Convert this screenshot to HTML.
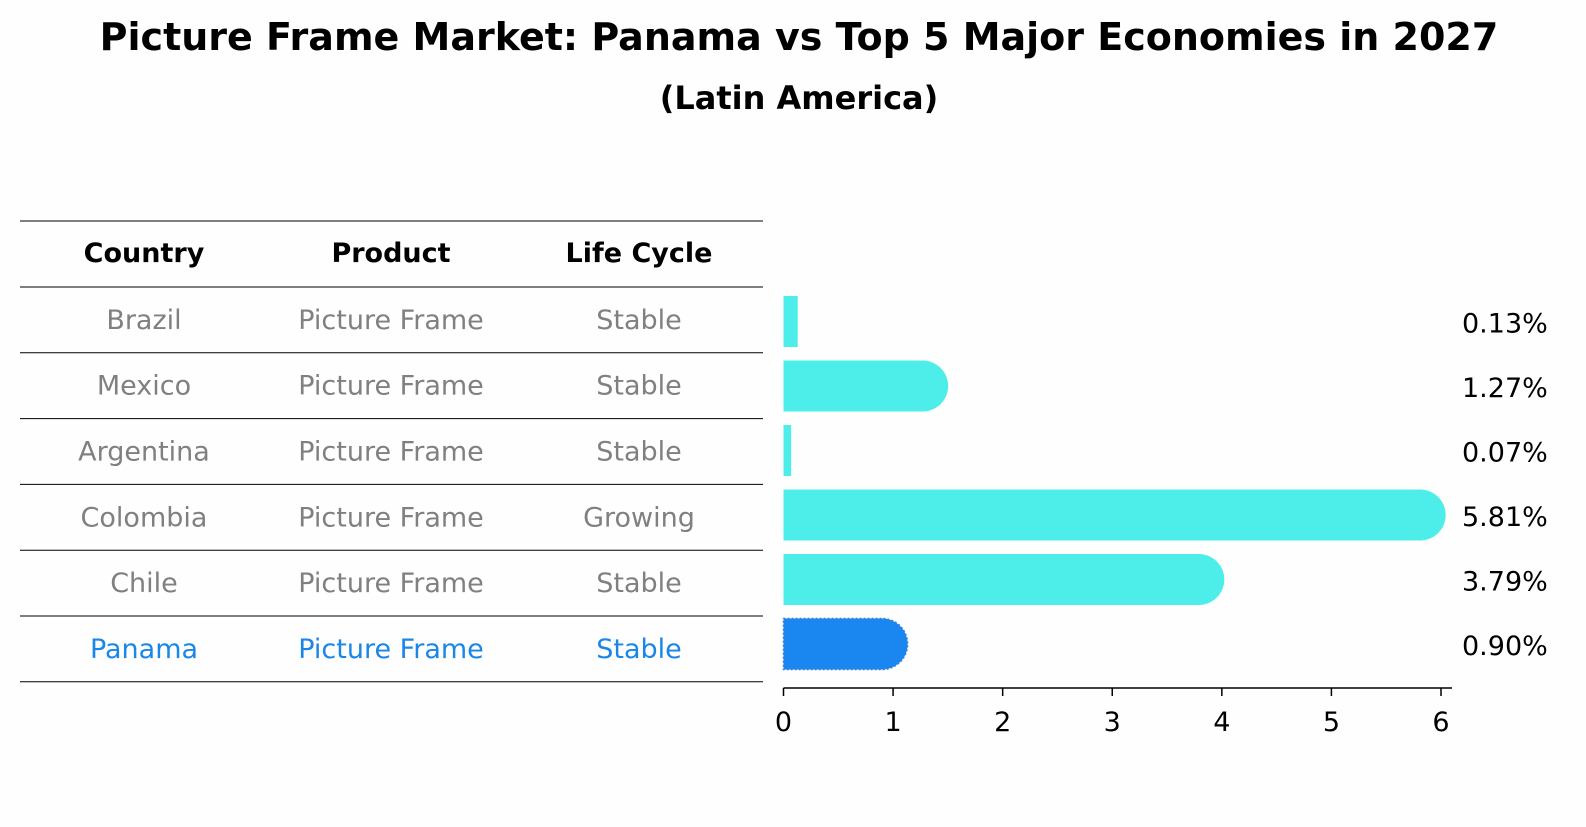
<!DOCTYPE html>
<html><head><meta charset="utf-8"><style>
body{margin:0;background:#fefefe;font-family:"DejaVu Sans","Liberation Sans",sans-serif;}
svg text{font-family:"DejaVu Sans","Liberation Sans",sans-serif;}
</style></head><body>
<svg id="chart" width="1586" height="823" viewBox="0 0 1586 823" xmlns="http://www.w3.org/2000/svg">
<rect width="1586" height="823" fill="#fefefe"/>
<text x="799" y="50" text-anchor="middle" font-size="38" font-weight="bold">Picture Frame Market: Panama vs Top 5 Major Economies in 2027</text>
<text x="799" y="109" text-anchor="middle" font-size="32" font-weight="bold">(Latin America)</text>
<g id="table"></g>
<g id="bars"></g>
<g id="axis"></g>
</svg>
<script>
const countries=["Brazil","Mexico","Argentina","Colombia","Chile","Panama"];
const products=["Picture Frame","Picture Frame","Picture Frame","Picture Frame","Picture Frame","Picture Frame"];
const lifeCycles=["Stable","Stable","Stable","Growing","Stable","Stable"];
const values=[0.13,1.27,0.07,5.81,3.79,0.90];
const xTicks=[0,1,2,3,4,5,6];
const NS="http://www.w3.org/2000/svg";
function mk(tag,attrs,parent){const e=document.createElementNS(NS,tag);for(const k in attrs)e.setAttribute(k,attrs[k]);parent.appendChild(e);return e;}
const x0=783.5,pxPerUnit=(1441-783.5)/6;
function xScale(v){return x0+v*pxPerUnit;}
const rowTop=287,rowH=65.8;
function yCenter(i){return 321.5+i*64.5;}
const table=document.getElementById('table');
const colX=[144,391,639];
const heads=["Country","Product","Life Cycle"];
heads.forEach((h,j)=>{const t=mk('text',{x:colX[j],y:262,'text-anchor':'middle','font-size':'27','font-weight':'bold'},table);t.textContent=h;

});
for(let k=0;k<=7;k++){const y=k===0?221:rowTop+(k-1)*rowH;const l=mk('line',{x1:20,x2:763,y1:y,y2:y,stroke:'#000','stroke-width':'1'},table);

}
countries.forEach((c,i)=>{const y=rowTop+i*rowH+rowH/2+9;const col=c==="Panama"?"#1a86e8":"#808080";
[c,products[i],lifeCycles[i]].forEach((s,j)=>{const t=mk('text',{x:colX[j],y:y,'text-anchor':'middle','font-size':'27',fill:col},table);t.textContent=s;

});});
const bars=document.getElementById('bars');
const bh=51,r=25.5;
values.forEach((v,i)=>{const x1=xScale(v),yc=yCenter(i),yt=yc-bh/2;const isP=countries[i]==="Panama";const col=isP?"#1a86f0":"#4deeea";
let d;
if(v>=0.5){d=`M${x0},${yt} H${x1} A${r},${r} 0 0 1 ${x1},${yt+bh} H${x0} Z`;}
else{d=`M${x0},${yt} H${x1} V${yt+bh} H${x0} Z`;}
const attrs={d:d,fill:col};
if(isP){attrs.stroke='#3a7fd8';attrs['stroke-width']='1.5';attrs['stroke-dasharray']='2,2';}
const p=mk('path',attrs,bars);


const t=mk('text',{x:1462,y:yc+11,'font-size':'27',fill:'#000'},bars);t.textContent=v.toFixed(2)+'%';

});
const axis=document.getElementById('axis');
const al=mk('line',{x1:x0,x2:1452,y1:688,y2:688,stroke:'#000','stroke-width':'1.5'},axis);


xTicks.forEach(v=>{const x=xScale(v);const tk=mk('line',{x1:x,x2:x,y1:688,y2:696,stroke:'#000','stroke-width':'1.5'},axis);


const t=mk('text',{x:x,y:731,'text-anchor':'middle','font-size':'27'},axis);t.textContent=v;

});
</script>
</body></html>
